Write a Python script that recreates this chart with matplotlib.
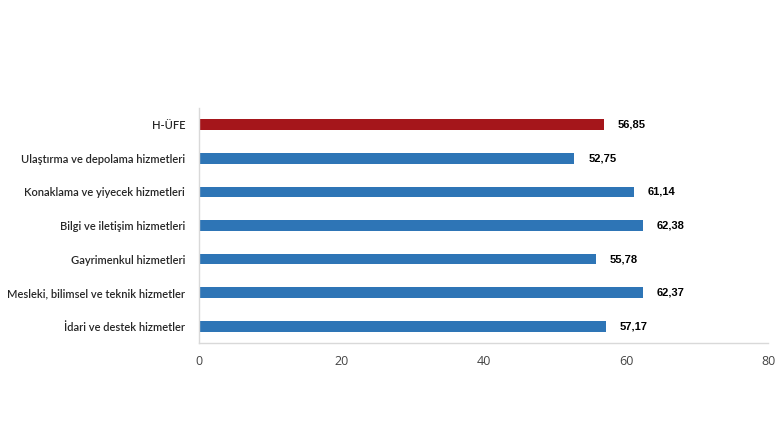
import matplotlib
matplotlib.use("Agg")
import matplotlib.pyplot as plt

categories = ["H-ÜFE", "Ulaştırma ve depolama hizmetleri", "Konaklama ve yiyecek hizmetleri",
              "Bilgi ve iletişim hizmetleri", "Gayrimenkul hizmetleri",
              "Mesleki, bilimsel ve teknik hizmetler", "İdari ve destek hizmetler"]
values = [56.85, 52.75, 61.14, 62.38, 55.78, 62.37, 57.17]
colors = ["#A5161B"] + ["#2E75B6"] * 6
xticks = [0, 20, 40, 60, 80]

fig = plt.figure(figsize=(7.8, 4.4), dpi=100)
ax = fig.add_axes([0.255, 0.2205, 0.73, 0.534])
y = list(range(len(categories)))
ax.barh(y, values, height=0.32, color=colors)
ax.set_ylim(len(categories) - 0.5, -0.5)
ax.set_xlim(0, 80)
ax.set_xticks(xticks)
ax.set_xticklabels([str(t) for t in xticks], fontsize=9, color="#444444", family="Open Sans")
ax.set_yticks(y)
ax.set_yticklabels(categories, fontsize=8.0, color="#262626", family="Lato", fontweight="semibold")
ax.tick_params(length=0, pad=10)
ax.tick_params(axis="x", pad=9)
for s in ["top", "right"]:
    ax.spines[s].set_visible(False)
for s in ["left", "bottom"]:
    ax.spines[s].set_color("#D9D9D9")
    ax.spines[s].set_linewidth(1)
for yi, v in zip(y, values):
    ax.annotate(f"{v:.2f}".replace(".", ","), (v, yi), xytext=(10, 0), textcoords="offset points",
                va="center", ha="left", fontsize=8, fontweight="bold",
                family="Liberation Sans", color="black")
fig.savefig("out.png", dpi=100)
